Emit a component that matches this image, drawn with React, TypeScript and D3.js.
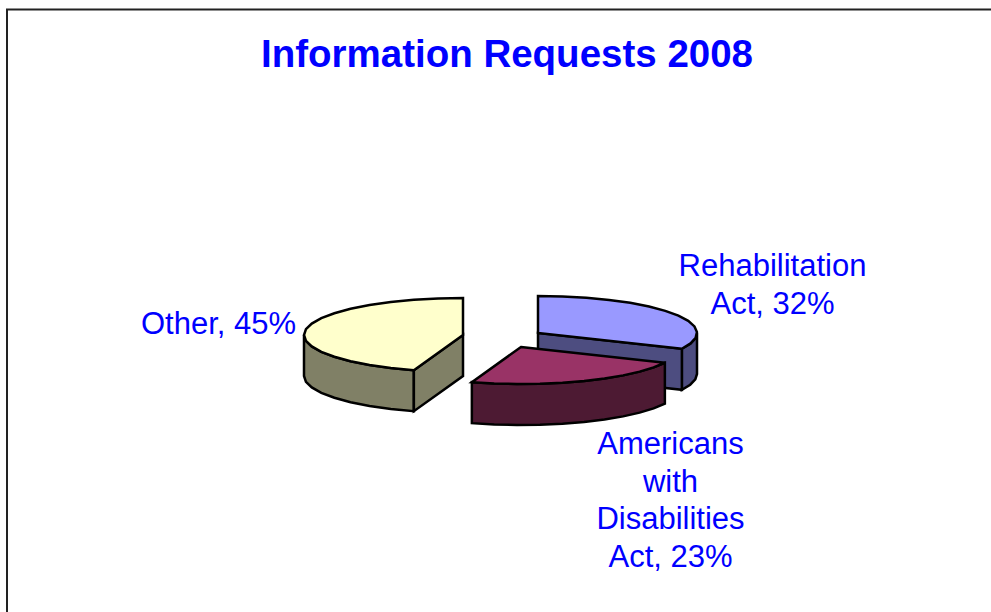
import React from "react";
import * as d3 from "d3";

const titleText = "Information Requests 2008";
const categories = ["Rehabilitation Act", "Americans with Disabilities Act", "Other"];
const shares = [32, 23, 45];
const topColors = ["#9999ff", "#993366", "#ffffcc"];
const sideColors = ["#4d4d80", "#4d1a33", "#808066"];
const apexes: [number, number][] = [[538, 333], [521, 347], [463, 335]];
const labelLines = [["Rehabilitation", "Act, 32%"], ["Americans", "with", "Disabilities", "Act, 23%"], ["Other, 45%"]];
const labelPos: [number, number][] = [[772.5, 276], [670.5, 454], [218.5, 334]];
const LINE = 37.7;
const RX = 159, RY = 37, DEPTH = 41;
const STEP = Math.PI / 20;

const pie = d3.pie<number>().sort(null).startAngle(0).endAngle(2 * Math.PI);
const line = d3.line();

function rim(a0: number, a1: number): number[] {
  const n = Math.max(1, Math.ceil((a1 - a0) / STEP));
  return d3.range(n + 1).map((i) => a0 + ((a1 - a0) * i) / n);
}

export default function App() {
  const arcs = pie(shares);
  return (
    <svg width={991} height={612} style={{ position: "absolute", left: 0, top: 0, background: "#fff" }}>
      <path d="M7,612V9.5H991" fill="none" stroke="#222" strokeWidth={2} />
      <text x={507} y={67} textAnchor="middle" fontFamily="Liberation Sans" fontWeight="bold" fontSize={38.5} fill="#0000ff">
        {titleText}
      </text>
      {arcs.map((a, i) => {
        const [cx, cy] = apexes[i];
        const pt = (t: number, dy = 0): [number, number] => [cx + RX * Math.sin(t), cy - RY * Math.cos(t) + dy];
        const top = [[cx, cy] as [number, number], ...rim(a.startAngle, a.endAngle).map((t) => pt(t))];
        const lo = Math.max(a.startAngle, Math.PI / 2);
        const hi = Math.min(a.endAngle, (3 * Math.PI) / 2);
        const walls: [number, number][][] = [];
        if (lo < hi) {
          const r = rim(lo, hi);
          walls.push([...r.map((t) => pt(t)), ...r.slice().reverse().map((t) => pt(t, DEPTH))]);
        }
        if (a.endAngle > 0 && a.endAngle < Math.PI) {
          const e = pt(a.endAngle);
          walls.push([[cx, cy], e, [e[0], e[1] + DEPTH], [cx, cy + DEPTH]]);
        }
        if (a.startAngle > Math.PI && a.startAngle < 2 * Math.PI) {
          const s = pt(a.startAngle);
          walls.push([[cx, cy], s, [s[0], s[1] + DEPTH], [cx, cy + DEPTH]]);
        }
        return (
          <g key={categories[i]} stroke="#000" strokeWidth={2.5} strokeLinejoin="miter">
            {walls.map((w, j) => (
              <path key={j} d={line(w) + "Z"} fill={sideColors[i]} />
            ))}
            <path d={line(top) + "Z"} fill={topColors[i]} />
          </g>
        );
      })}
      {labelLines.map((lines, i) => (
        <text key={i} textAnchor="middle" fontFamily="Liberation Sans" fontSize={31} fill="#0000ff">
          {lines.map((l, j) => (
            <tspan key={j} x={labelPos[i][0]} y={labelPos[i][1] + j * LINE}>
              {l}
            </tspan>
          ))}
        </text>
      ))}
    </svg>
  );
}
